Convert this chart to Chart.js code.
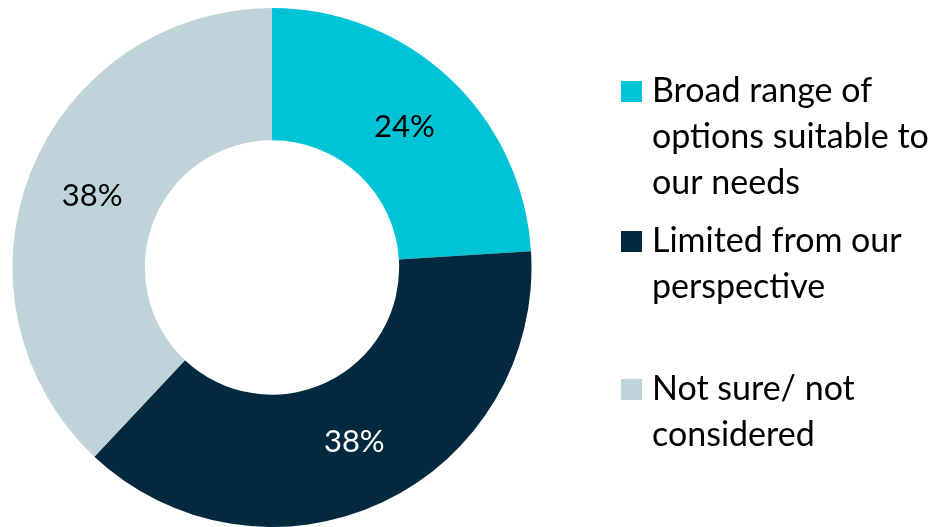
<!DOCTYPE html>
<html>
<head>
<meta charset="utf-8">
<script src="https://cdn.jsdelivr.net/npm/chart.js@4/dist/chart.umd.min.js"></script>
<style>
  html, body { margin: 0; padding: 0; background: #ffffff; }
  #wrap { position: relative; width: 943px; height: 527px; }
</style>
</head>
<body>
<div id="wrap"><canvas id="donut"></canvas></div>
<script>
// Survey answers and their shares (%)
var categories = ['Broad range of options suitable to our needs', 'Limited from our perspective', 'Not sure/ not considered'];
var legendLines = [['Broad range of', 'options suitable to', 'our needs'], ['Limited from our', 'perspective'], ['Not sure/ not', 'considered']];
var shares = [24, 38, 38];

var sliceColors = ['#00C4D6', '#03293F', '#BED4DA'];
var labelColors = ['#000000', '#ffffff', '#000000'];

var LEGEND_FONT = '34px Lato, "Open Sans", sans-serif';
var LABEL_FONT = '31px Lato, "Open Sans", sans-serif';

// Percent labels drawn in the middle of each ring segment
var sliceLabels = {
    id: 'sliceLabels',
    afterDatasetsDraw: function(chart) {
        var ctx = chart.ctx;
        var meta = chart.getDatasetMeta(0);
        ctx.save();
        ctx.font = LABEL_FONT;
        ctx.textAlign = 'center';
        ctx.textBaseline = 'middle';
        meta.data.forEach(function(arc, i) {
            var p = arc.getCenterPoint();
            ctx.fillStyle = labelColors[i];
            ctx.fillText(shares[i] + '%', p.x, p.y);
        });
        ctx.restore();
    }
};

// Legend on the right with wrapped labels
var sideLegend = {
    id: 'sideLegend',
    afterDraw: function(chart) {
        var ctx = chart.ctx;
        var itemTop = [91, 241, 389]; // centre of first line of each item
        var lineH = 46;
        ctx.save();
        ctx.font = LEGEND_FONT;
        ctx.textAlign = 'left';
        ctx.textBaseline = 'middle';
        legendLines.forEach(function(lines, i) {
            ctx.fillStyle = sliceColors[i];
            ctx.fillRect(621, itemTop[i] - 10, 21, 21);
            ctx.fillStyle = '#000000';
            lines.forEach(function(t, j) {
                ctx.fillText(t, 652, itemTop[i] + j * lineH);
            });
        });
        ctx.restore();
    }
};

function drawChart() {
    new Chart(document.getElementById('donut'), {
        type: 'doughnut',
        data: {
            labels: categories,
            datasets: [{
                data: shares,
                backgroundColor: sliceColors,
                borderWidth: 0
            }]
        },
        options: {
            responsive: true,
            maintainAspectRatio: false,
            animation: false,
            cutout: '49%',
            layout: { padding: { left: 12, top: 8, right: 411, bottom: 0 } },
            plugins: {
                legend: { display: false },
                tooltip: { enabled: false }
            }
        },
        plugins: [sliceLabels, sideLegend]
    });
}

// make sure Lato is ready before the canvas text is drawn
document.fonts.load(LEGEND_FONT).then(drawChart, drawChart);
</script>
</body>
</html>
